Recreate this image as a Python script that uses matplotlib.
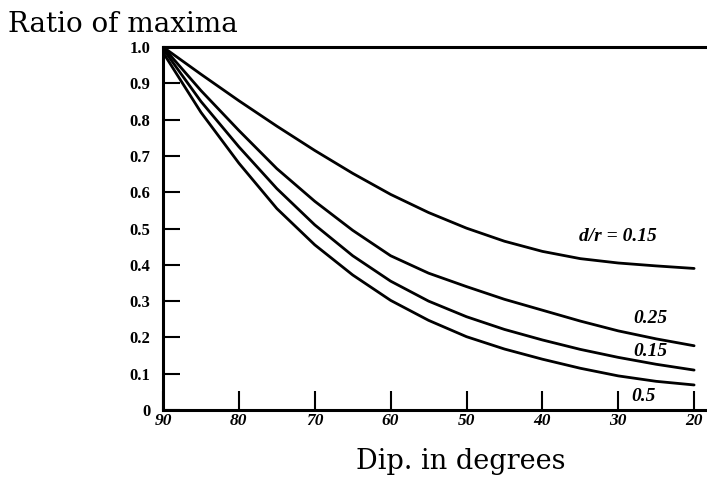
import matplotlib
matplotlib.use('Agg')
import matplotlib.pyplot as plt

# dip angle in degrees (x axis runs from 90 down to 20)
dip = [90, 85, 80, 75, 70, 65, 60, 55, 50, 45, 40, 35, 30, 25, 20]

# ratio of maxima
ratio_dr015_top = [1.0, 0.925, 0.852, 0.782, 0.715, 0.652, 0.594, 0.544, 0.501, 0.465, 0.437, 0.417, 0.405, 0.397, 0.39]
ratio_dr025 = [1.0, 0.88, 0.77, 0.665, 0.575, 0.495, 0.425, 0.377, 0.34, 0.305, 0.275, 0.245, 0.218, 0.196, 0.177]
ratio_dr015 = [0.995, 0.85, 0.725, 0.61, 0.51, 0.425, 0.355, 0.3, 0.257, 0.222, 0.193, 0.167, 0.145, 0.126, 0.11]
ratio_dr05 = [0.985, 0.82, 0.68, 0.555, 0.455, 0.372, 0.302, 0.247, 0.202, 0.168, 0.14, 0.115, 0.094, 0.079, 0.069]

x_ticks = [90, 80, 70, 60, 50, 40, 30, 20]
y_ticks = [0, 0.1, 0.2, 0.3, 0.4, 0.5, 0.6, 0.7, 0.8, 0.9, 1.0]
y_ticklabels = ['0', '0.1', '0.2', '0.3', '0.4', '0.5', '0.6', '0.7', '0.8', '0.9', '1.0']

serif = 'Liberation Serif'

fig = plt.figure(figsize=(7.07, 4.95), dpi=100)
ax = fig.add_axes([0.2306, 0.1717, 0.7694, 0.7333])

for ys in (ratio_dr015_top, ratio_dr025, ratio_dr015, ratio_dr05):
    ax.plot(dip, ys, color='black', lw=2.0, solid_capstyle='round',
            solid_joinstyle='round')

ax.set_xlim(90, 18.3)
ax.set_ylim(0, 1.0)

ax.spines['right'].set_visible(False)
for s in ('left', 'bottom', 'top'):
    ax.spines[s].set_linewidth(2.2)

ax.set_xticks(x_ticks)
ax.set_xticklabels([str(v) for v in x_ticks], fontfamily=serif,
                   fontweight='bold', fontstyle='italic', fontsize=12.5)
ax.set_yticks(y_ticks)
ax.set_yticklabels(y_ticklabels, fontfamily=serif, fontweight='bold', fontsize=12)
ax.tick_params(axis='x', direction='in', length=14, width=1.5, pad=2)
ax.tick_params(axis='y', direction='in', length=12, width=1.5, pad=9)

# curve labels
lab = dict(fontfamily=serif, fontweight='bold', fontstyle='italic',
           fontsize=14, ha='center', va='center')
ax.text(30.0, 0.479, 'd/r = 0.15', **lab)
ax.text(25.8, 0.253, '0.25', **lab)
ax.text(25.8, 0.160, '0.15', **lab)
ax.text(26.7, 0.036, '0.5', **lab)

fig.text(0.012, 0.95, 'Ratio of maxima', fontfamily='DejaVu Serif', fontsize=20,
         ha='left', va='center')
fig.text(0.651, 0.067, 'Dip. in degrees', fontfamily='DejaVu Serif', fontsize=19.5,
         ha='center', va='center')

fig.savefig('out.png', dpi=100)
